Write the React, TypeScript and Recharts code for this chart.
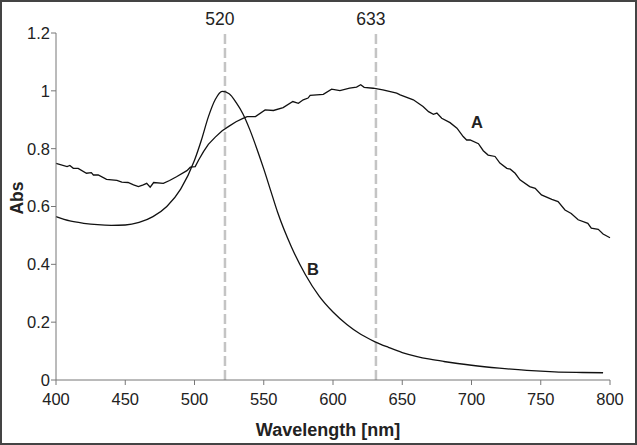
import { LineChart, Line, XAxis, YAxis, ReferenceLine, ReferenceDot } from "recharts"

// curve A (noisy broad band)
const wavelengthsA = [
  400, 408, 410, 412.5, 416, 422, 425.5, 427, 430.5, 436.5, 444, 447.5, 452, 456, 459.5, 463, 465.5, 468, 470.5, 477.5,
  482, 487, 494.5, 497, 500.5, 503, 506.5, 510, 515, 520, 525, 530, 535, 538, 544, 551, 557, 564, 571, 575,
  578.5, 582, 583.5, 593, 599, 605, 612, 617, 620, 622.5, 629, 636, 646, 648.5, 658, 665, 669, 672.5, 675, 678.5,
  684.5, 689.5, 694, 696.5, 699, 705, 708.5, 712, 717, 720.5, 725.5, 728, 731.5, 735, 742, 746, 750.5, 758, 762.5, 767.5,
  772, 777, 784, 786.5, 791.5, 795, 800,
]
const absA = [
  0.749, 0.738, 0.742, 0.732, 0.732, 0.715, 0.717, 0.709, 0.709, 0.694, 0.69, 0.684, 0.683, 0.675, 0.669, 0.675, 0.68, 0.667, 0.683, 0.68,
  0.69, 0.703, 0.724, 0.736, 0.738, 0.761, 0.79, 0.815, 0.84, 0.862, 0.878, 0.893, 0.905, 0.911, 0.911, 0.934, 0.932, 0.942, 0.963, 0.957,
  0.969, 0.975, 0.984, 0.988, 1.006, 1.001, 1.009, 1.013, 1.021, 1.012, 1.009, 1.003, 0.992, 0.986, 0.969, 0.946, 0.928, 0.919, 0.923, 0.905,
  0.89, 0.871, 0.842, 0.83, 0.83, 0.817, 0.793, 0.778, 0.773, 0.75, 0.732, 0.729, 0.715, 0.692, 0.669, 0.663, 0.64, 0.625, 0.617, 0.588,
  0.576, 0.554, 0.542, 0.525, 0.521, 0.505, 0.492,
]

// curve B (smooth plasmon peak)
const wavelengthsB = [
  400, 410, 420, 430, 440, 450, 460, 470, 480, 490, 500, 505, 510, 515, 520, 525, 530, 535, 540, 545,
  550, 555, 560, 570, 580, 590, 600, 610, 620, 630, 640, 650, 660, 670, 680, 690, 700, 720, 740, 760,
  780, 795,
]
const absB = [
  0.565, 0.55, 0.542, 0.537, 0.535, 0.536, 0.545, 0.565, 0.6, 0.66, 0.76, 0.83, 0.91, 0.97, 0.998, 0.99, 0.96, 0.92, 0.865, 0.8,
  0.73, 0.655, 0.58, 0.46, 0.365, 0.29, 0.235, 0.192, 0.158, 0.133, 0.113, 0.095, 0.082, 0.072, 0.064, 0.057, 0.051, 0.041, 0.033, 0.028,
  0.026, 0.025,
]

const xTicks = [400, 450, 500, 550, 600, 650, 700, 750, 800]
const yTicks = [0, 0.2, 0.4, 0.6, 0.8, 1, 1.2]

// marker lines: position on plot, printed label
const markerX = [522, 631]
const markerLabels = ["520", "633"]

const seriesA = wavelengthsA.map((w, i) => ({ w, abs: absA[i] }))
const seriesB = wavelengthsB.map((w, i) => ({ w, abs: absB[i] }))

const font = "'Liberation Sans', Arial, sans-serif"
const tickStyle = { fontSize: 16.5, fill: "#222", fontFamily: font }

export default function App() {
  return (
    <div
      style={{
        position: "absolute",
        left: 0,
        top: 0,
        width: 637,
        height: 445,
        background: "#fff",
        border: "2px solid #444",
        boxSizing: "border-box",
      }}
    >
      <div style={{ position: "absolute", left: -2, top: -2 }}>
        <LineChart width={637} height={445} margin={{ top: 33, right: 27, left: 0, bottom: 0 }}>
          <XAxis
            xAxisId="b"
            dataKey="w"
            type="number"
            domain={[400, 800]}
            ticks={xTicks}
            height={65}
            tick={tickStyle}
            tickSize={5}
            tickMargin={8}
            stroke="#777"
            allowDuplicatedCategory={false}
            label={{
              content: () => (
                <text x={328} y={436} textAnchor="middle" fontFamily={font} fontSize={18} fontWeight="bold" fill="#222">
                  Wavelength [nm]
                </text>
              ),
            }}
          />
          <XAxis xAxisId="t" orientation="top" type="number" domain={[400, 800]} height={0} tick={false} tickLine={false} stroke="#bbb" />
          <YAxis
            yAxisId="l"
            type="number"
            domain={[0, 1.2]}
            ticks={yTicks}
            width={56}
            tick={tickStyle}
            tickSize={5}
            tickMargin={1}
            stroke="#777"
            tickFormatter={(v) => String(v)}
            label={{
              content: () => (
                <text
                  x={17}
                  y={198}
                  transform="rotate(-90 17 198)"
                  textAnchor="middle"
                  dominantBaseline="central"
                  fontFamily={font}
                  fontSize={17.5}
                  fontWeight="bold"
                  fill="#222"
                >
                  Abs
                </text>
              ),
            }}
          />
          <YAxis yAxisId="r" orientation="right" type="number" domain={[0, 1.2]} width={0} tick={false} tickLine={false} stroke="#bbb" />
          {markerX.map((x, i) => (
            <ReferenceLine
              key={x}
              x={x}
              xAxisId="b"
              yAxisId="l"
              stroke="#c4c4c4"
              strokeWidth={2.5}
              strokeDasharray="10 4"
              label={{ value: markerLabels[i], position: "top", dx: -5, offset: 8, style: { ...tickStyle, fontSize: 17.5 } }}
            />
          ))}
          <Line
            xAxisId="b"
            yAxisId="l"
            data={seriesA}
            dataKey="abs"
            type="linear"
            stroke="#111"
            strokeWidth={1.3}
            dot={false}
            isAnimationActive={false}
          />
          <Line
            xAxisId="b"
            yAxisId="l"
            data={seriesB}
            dataKey="abs"
            type="monotone"
            stroke="#111"
            strokeWidth={1.3}
            dot={false}
            isAnimationActive={false}
          />
          <ReferenceDot
            xAxisId="b"
            yAxisId="l"
            x={704}
            y={0.893}
            r={0}
            label={{ value: "A", position: "center", style: { fontFamily: font, fontSize: 16.5, fontWeight: "bold", fill: "#222" } }}
          />
          <ReferenceDot
            xAxisId="b"
            yAxisId="l"
            x={585.5}
            y={0.384}
            r={0}
            label={{ value: "B", position: "center", style: { fontFamily: font, fontSize: 16.5, fontWeight: "bold", fill: "#222" } }}
          />
        </LineChart>
      </div>
    </div>
  )
}
